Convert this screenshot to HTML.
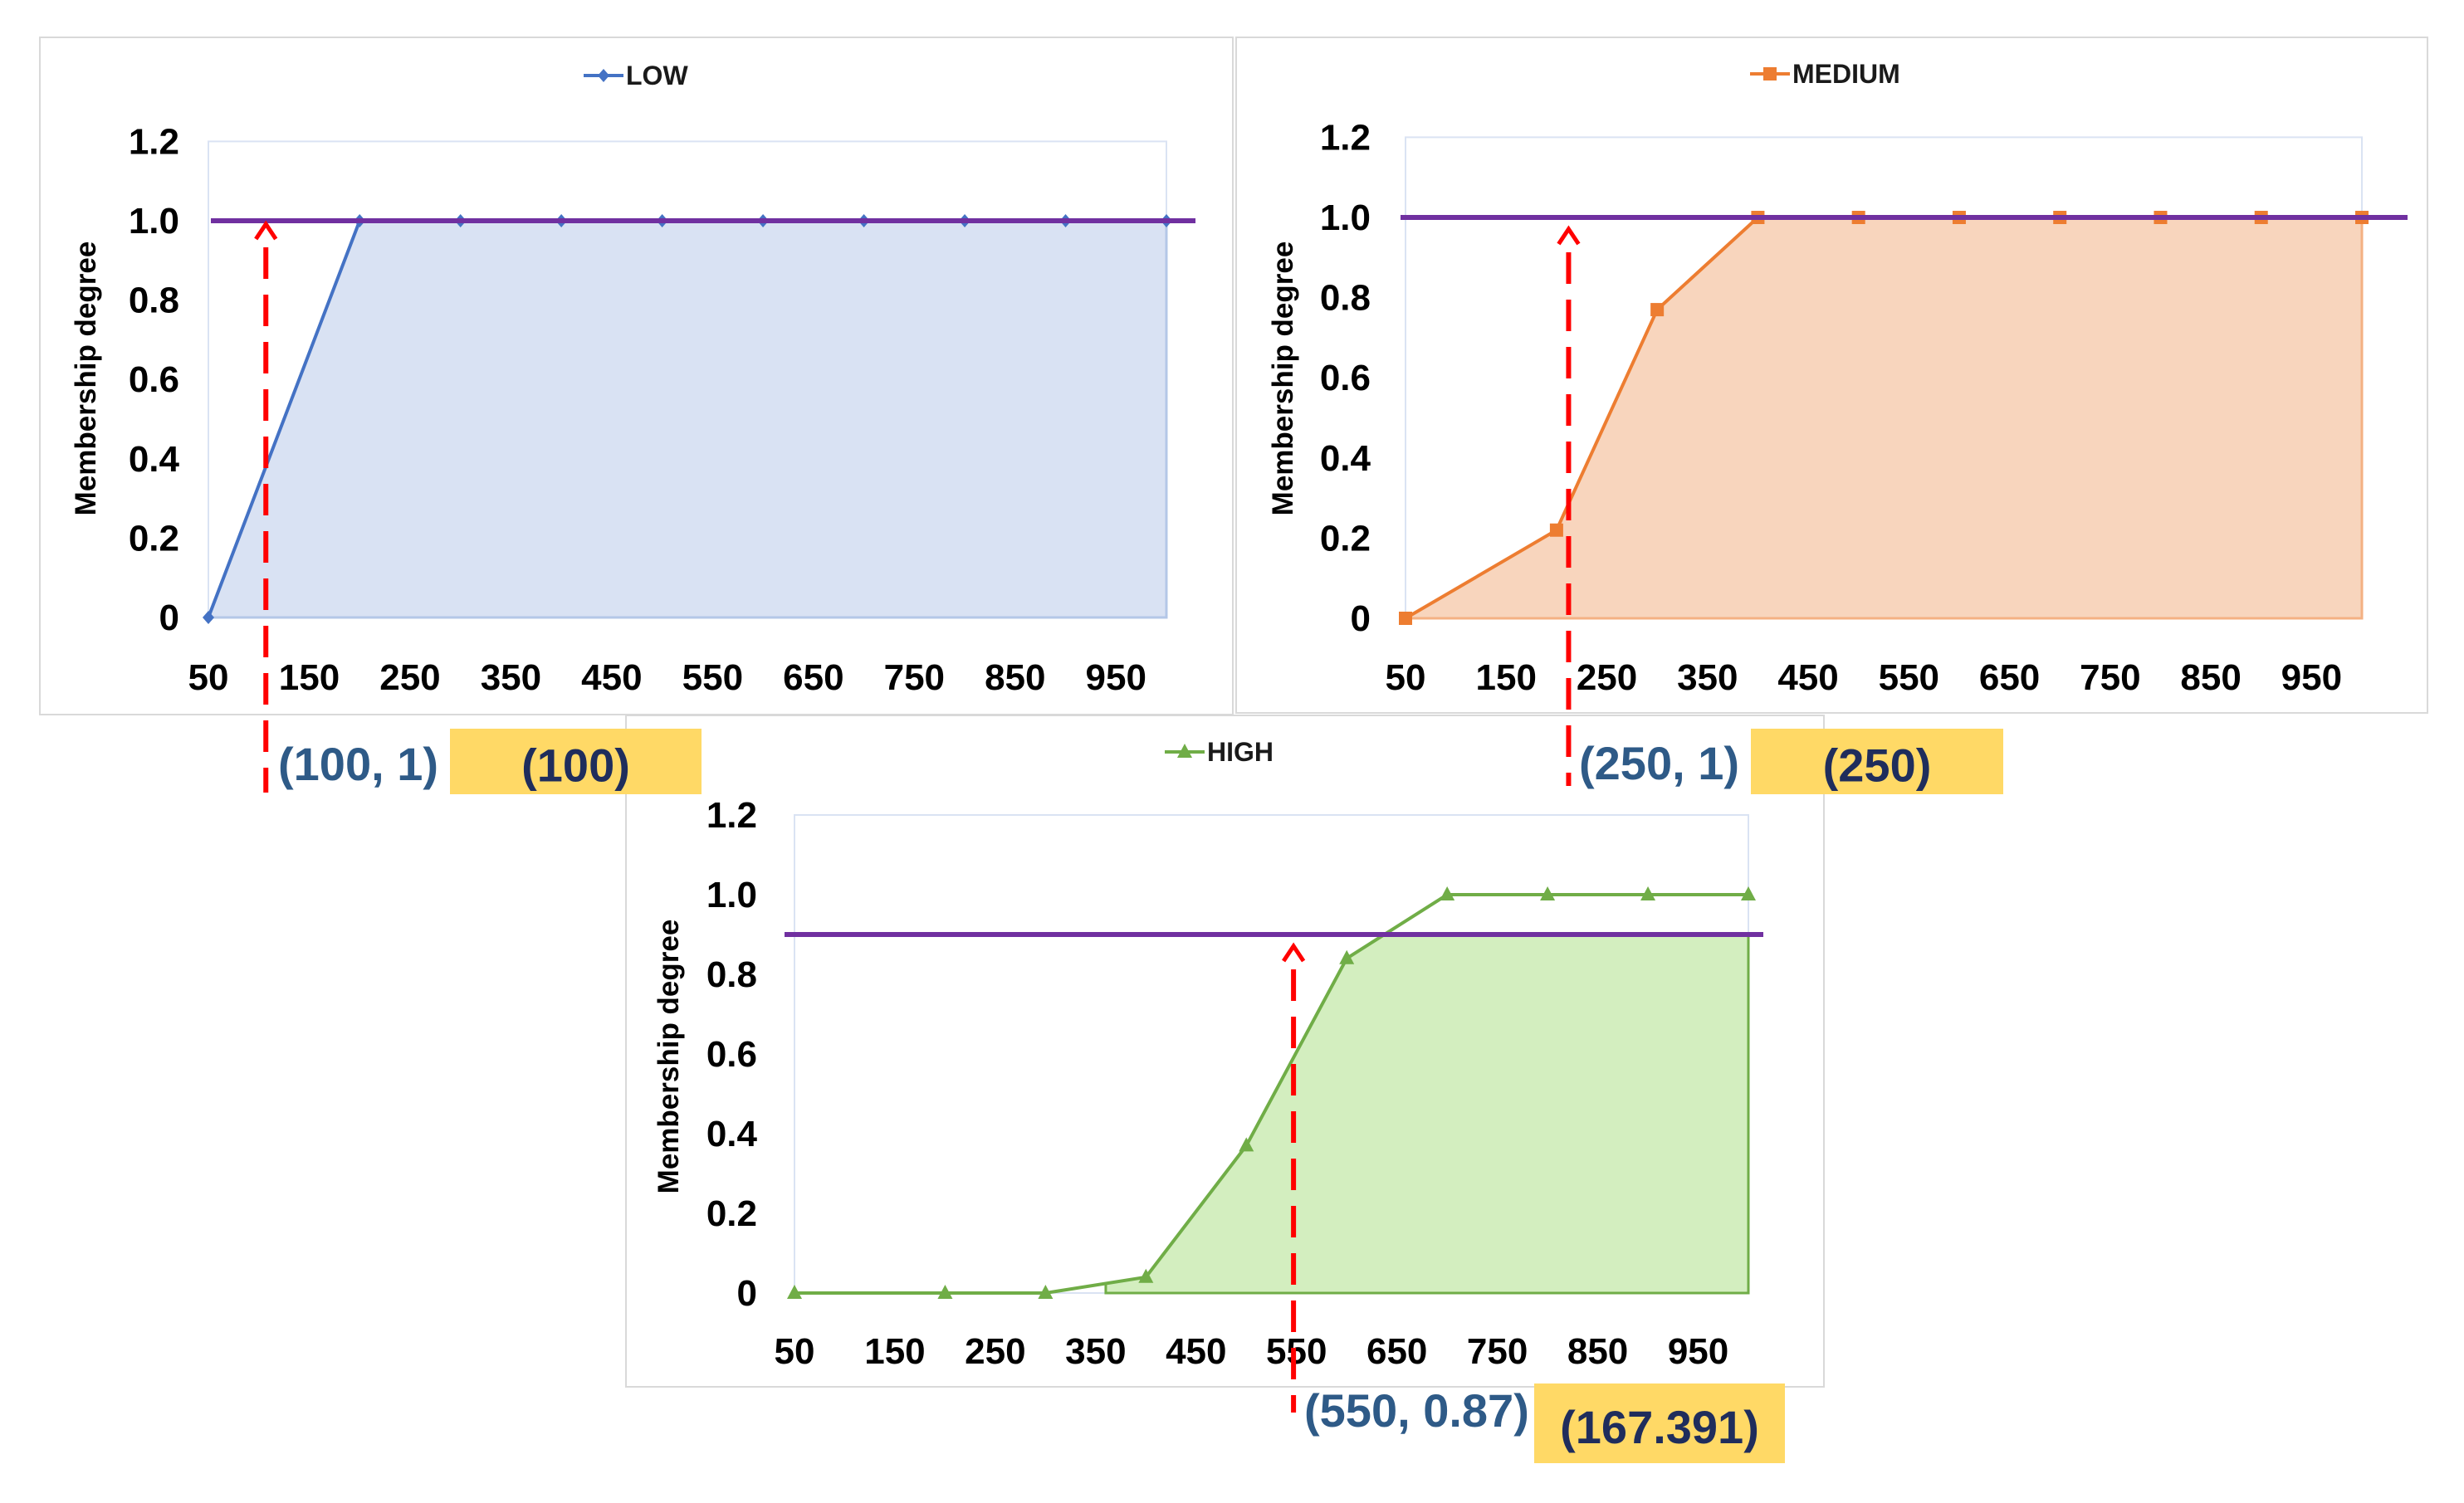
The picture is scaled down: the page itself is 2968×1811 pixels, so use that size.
<!DOCTYPE html>
<html><head><meta charset="utf-8"><style>
html,body{margin:0;padding:0;background:#fff;}
svg{display:block;font-family:"Liberation Sans",sans-serif;}
</style></head><body>
<svg id="root" width="2968" height="1811" viewBox="0 0 2968 1811" xmlns="http://www.w3.org/2000/svg"></svg>
<script>
// ---- data ----
const xTicks = [50,150,250,350,450,550,650,750,850,950];
const yTicks = [0,0.2,0.4,0.6,0.8,1.0,1.2];
const yTickLabels = ["0","0.2","0.4","0.6","0.8","1.0","1.2"];
const lowX = [50,200,300,400,500,600,700,800,900,1000];
const lowY = [0,1,1,1,1,1,1,1,1,1];
const medX = [50,200,300,400,500,600,700,800,900,1000];
const medY = [0,0.22,0.77,1,1,1,1,1,1,1];
const highX = [50,200,300,400,500,600,700,800,900,1000];
const highY = [0,0,0,0.04,0.37,0.84,1,1,1,1];
const lowCut = 1.0, medCut = 1.0, highCut = 0.9;
const lowArrowX = 107, medArrowX = 212, highArrowX = 547;

const NS = "http://www.w3.org/2000/svg";
const root = document.getElementById('root');
function mk(tag, attrs, parent, text){
  const e = document.createElementNS(NS, tag);
  for (const k in attrs) e.setAttribute(k, attrs[k]);
  if (text !== undefined) e.textContent = text;
  (parent || root).appendChild(e);
  return e;
}

function chart(c){
  const g = mk('g', {});
  
  
  const xs = v => c.left + (v - 50) * (c.right - c.left) / 950;
  const ys = v => c.y0 - v * (c.y0 - c.y1);
  const p = mk('rect', {x:c.px1, y:c.py1, width:c.px2-c.px1, height:c.py2-c.py1, fill:'#fff', stroke:'#d9d9d9', 'stroke-width':2}, g);
  
  
  const pa = mk('rect', {x:c.left, y:ys(1.2), width:c.right-c.left, height:c.y0-ys(1.2), fill:'none', stroke:'#dae3f3', 'stroke-width':2}, g);
  
  
  let pts = [];
  const fx0 = c.fillStart;
  pts.push([xs(fx0), ys(0)]);
  for (let i = 0; i < c.xd.length - 1; i++){
    const xa = c.xd[i], xb = c.xd[i+1], ya = c.yd[i], yb = c.yd[i+1];
    if (xb <= fx0) continue;
    const steps = 20;
    for (let s = 0; s <= steps; s++){
      const xv = xa + (xb - xa) * s / steps;
      if (xv < fx0) continue;
      const yv = ya + (yb - ya) * s / steps;
      pts.push([xs(xv), ys(Math.min(yv, c.cut))]);
    }
  }
  pts.push([xs(c.xd[c.xd.length-1]), ys(0)]);
  const area = mk('polygon', {points: pts.map(q=>q.join(',')).join(' '), fill:c.fill, stroke:c.fillStroke, 'stroke-width':3}, g);
  
  
  const line = mk('polyline', {points: c.xd.map((v,i)=>xs(v)+','+ys(c.yd[i])).join(' '), fill:'none', stroke:c.color, 'stroke-width':4}, g);
  
  
  c.xd.forEach((v,i)=>{
    const X = xs(v), Y = ys(c.yd[i]);
    let m;
    if (c.marker === 'diamond') m = mk('polygon', {points:`${X},${Y-8} ${X+7},${Y} ${X},${Y+8} ${X-7},${Y}`, fill:c.color}, g);
    else if (c.marker === 'square') m = mk('rect', {x:X-8, y:Y-8, width:16, height:16, fill:c.color}, g);
    else m = mk('polygon', {points:`${X},${Y-10} ${X+9},${Y+7} ${X-9},${Y+7}`, fill:c.color}, g);
    
    
  });
  yTicks.forEach((t,i)=>{
    const tl = mk('text', {x:c.tickRight, y:ys(t)+15, 'text-anchor':'end', 'font-size':44, 'font-weight':'bold', fill:'#000'}, g, yTickLabels[i]);
    
    
  });
  xTicks.forEach(t=>{
    const tl = mk('text', {x:xs(t), y:c.xLabY+15, 'text-anchor':'middle', 'font-size':44, 'font-weight':'bold', fill:'#000'}, g, String(t));
    
    
  });
  const yt = mk('text', {x:0, y:0, transform:`translate(${c.titleX+12},${c.titleY}) rotate(-90)`, 'text-anchor':'middle', 'font-size':35, 'font-weight':'bold', fill:'#000'}, g, 'Membership degree');
  
  
  const lg = mk('g', {}, g);
  
  
  mk('line', {x1:c.legX, y1:c.legY, x2:c.legX+48, y2:c.legY, stroke:c.color, 'stroke-width':4}, lg);
  const lx = c.legX + 24;
  if (c.marker === 'diamond') mk('polygon', {points:`${lx},${c.legY-8} ${lx+7},${c.legY} ${lx},${c.legY+8} ${lx-7},${c.legY}`, fill:c.color}, lg);
  else if (c.marker === 'square') mk('rect', {x:lx-8, y:c.legY-8, width:16, height:16, fill:c.color}, lg);
  else mk('polygon', {points:`${lx},${c.legY-10} ${lx+9},${c.legY+7} ${lx-9},${c.legY+7}`, fill:c.color}, lg);
  mk('text', {x:c.legX+51, y:c.legY+11, 'font-size':32, 'font-weight':'bold', fill:'#1a1a1a'}, lg, c.label);
  const cl = mk('line', {x1:c.cutX1, y1:ys(c.cut), x2:c.cutX2, y2:ys(c.cut), stroke:'#7030a0', 'stroke-width':6}, g);
  
  
  return {xs, ys};
}
function annot(name, ax, tipY, botY, lab, labX, labY, box, boxTxt){
  const g = mk('g', {});
  
  
  const d = mk('line', {x1:ax, y1:tipY+32, x2:ax, y2:botY, stroke:'#ff0000', 'stroke-width':6, 'stroke-dasharray':'38 19'}, g);
  
  
  mk('polyline', {points:`${ax-12},${tipY+22} ${ax},${tipY+4} ${ax+12},${tipY+22}`, fill:'none', stroke:'#ff0000', 'stroke-width':5}, g);
  const t = mk('text', {x:labX, y:labY+20, 'font-size':56, 'font-weight':'bold', fill:'#2e5a87'}, g, lab);
  
  
  const b = mk('rect', {x:box[0], y:box[1], width:box[2]-box[0], height:box[3]-box[1], fill:'#ffd966'}, g);
  
  
  const bt = mk('text', {x:(box[0]+box[2])/2, y:(box[1]+box[3])/2+24, 'text-anchor':'middle', 'font-size':56, 'font-weight':'bold', fill:'#1f2d5c'}, g, boxTxt);
  
  
}

const c1 = chart({name:'low', label:'LOW', color:'#4472c4', fill:'#d9e2f3', fillStroke:'#b4c7e7', marker:'diamond',
  xd:lowX, yd:lowY, cut:lowCut, fillStart:50,
  left:251, right:1405, y0:744, y1:266, px1:48, py1:45, px2:1485, py2:861,
  tickRight:216, xLabY:816, titleX:103, titleY:456, legX:703, legY:91, cutX1:254, cutX2:1440});
const c2 = chart({name:'medium', label:'MEDIUM', color:'#ed7d31', fill:'#f8d5bd', fillStroke:'#f4b183', marker:'square',
  xd:medX, yd:medY, cut:medCut, fillStart:50,
  left:1693, right:2845, y0:745, y1:262, px1:1489, py1:45, px2:2924, py2:859,
  tickRight:1651, xLabY:816, titleX:1545, titleY:456, legX:2108, legY:89, cutX1:1687, cutX2:2900});
const c3 = chart({name:'high', label:'HIGH', color:'#70ad47', fill:'#d3eebf', fillStroke:'#70ad47', marker:'triangle',
  xd:highX, yd:highY, cut:highCut, fillStart:360,
  left:957, right:2106, y0:1558, y1:1078, px1:754, py1:862, px2:2197, py2:1671,
  tickRight:912, xLabY:1628, titleX:805, titleY:1273, legX:1403, legY:906, cutX1:945, cutX2:2124});

annot('low', c1.xs(lowArrowX), c1.ys(lowCut), 955, '(100, 1)', 335, 920, [542,878,845,957], '(100)');
annot('medium', c2.xs(medArrowX), c2.ys(medCut)+10, 947, '(250, 1)', 1902, 919, [2109,878,2413,957], '(250)');
annot('high', c3.xs(highArrowX), c3.ys(highCut)+10, 1702, '(550, 0.87)', 1571, 1699, [1848,1667,2150,1763], '(167.391)');
</script>
</body></html>
